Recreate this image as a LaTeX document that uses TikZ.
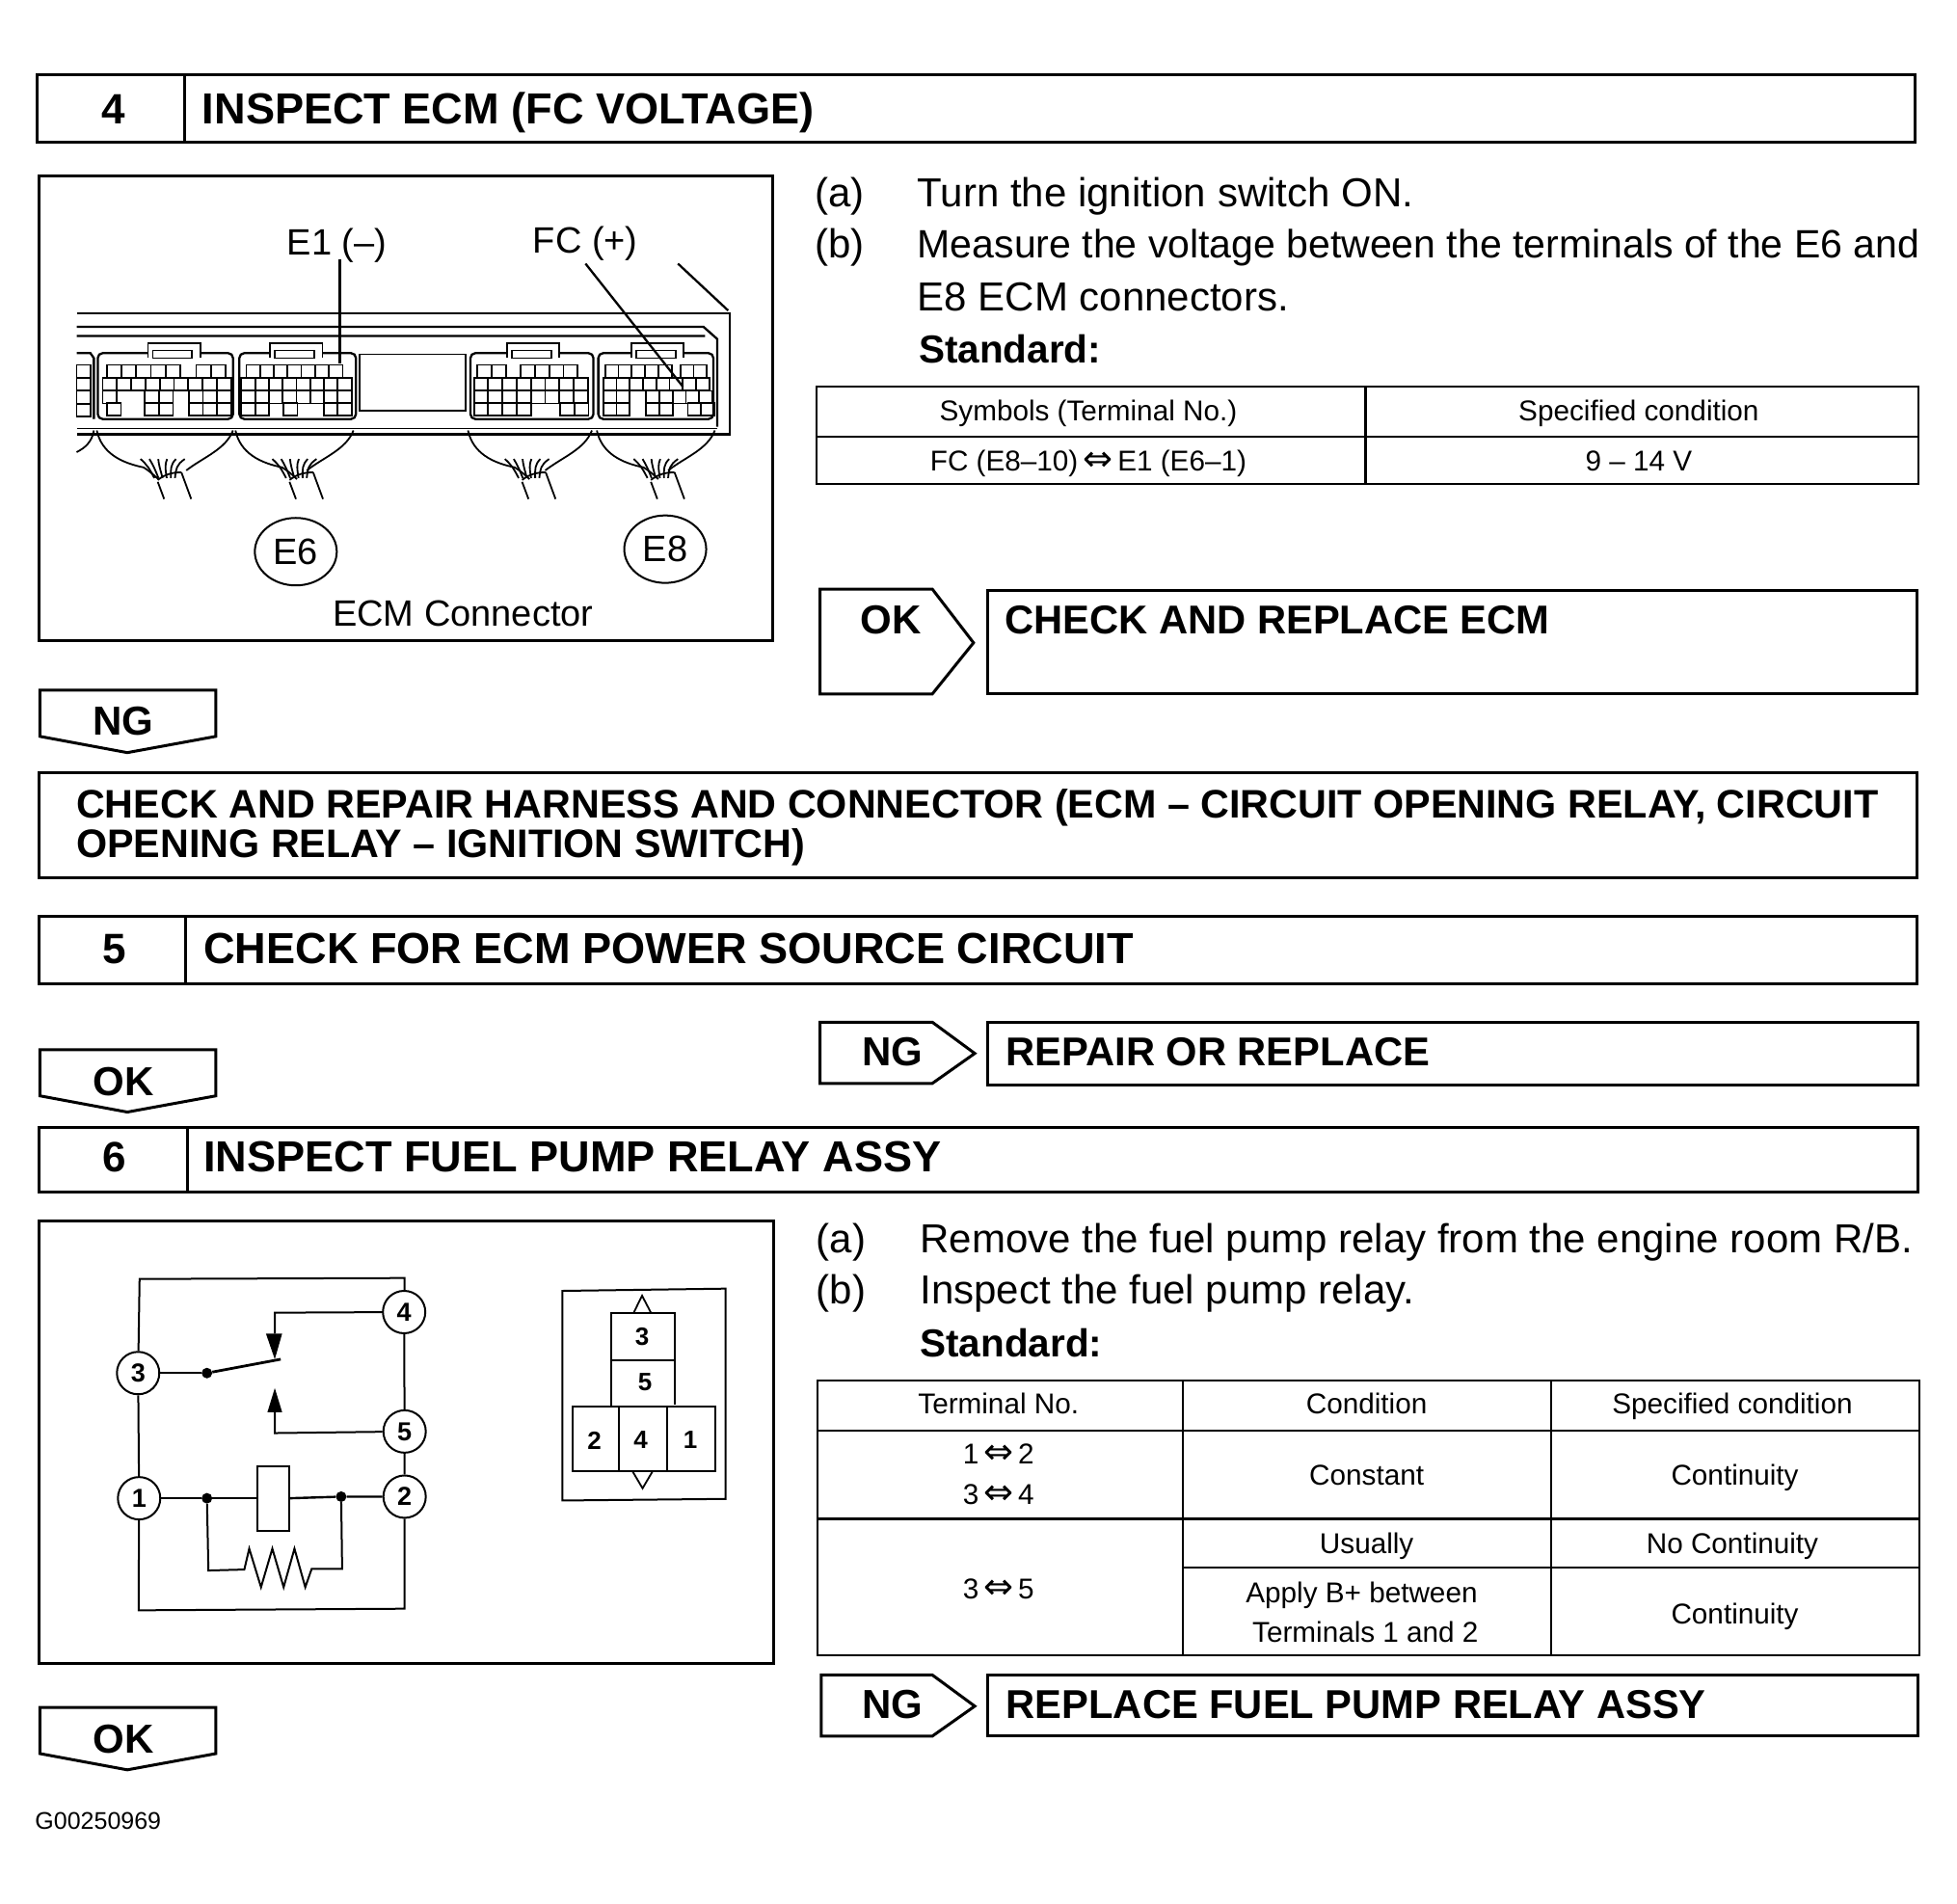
\documentclass[tikz,border=0pt]{standalone}
\usepackage{fontspec}
\setmainfont{Liberation Sans}
\newfontfamily\dejavu{DejaVu Sans}
\usetikzlibrary{shapes.geometric}
\newcommand\fs[1]{\fontsize{#1}{#1}\selectfont}
\newcommand\dbl{{\dejavu\fontsize{37}{37}\selectfont ⇔}}
\newcommand\crow[3]{\foreach \a/\n in {#3}{\foreach \k in {1,...,\n}{\draw[thin2] ({\a+(\k-1)*#1},#2) rectangle ++(#1,33);}}}
\newcommand\bundle[3]{%
 \draw[thin2] (#1,700) .. controls (#1+10,760) and (#1+50,785) .. (#1+95,797) .. controls (#1+105,805) and (#1+115,815) .. (#1+125,828);
 \draw[thin2] (#2,700) .. controls (#2-15,750) and (#2-60,770) .. (#2-95,805);
 \draw[thin2] (#3,835) -- (#3+13,880) (#3+48,810) -- (#3+68,880);
 \draw[thin2] (#3,830) .. controls (#3+15,815) and (#3+30,810) .. (#3+48,810);
 \foreach \d in {-10,2,14,26,38,50}{\draw[thin2] (#3+\d*0.7,825) .. controls (#3+\d*0.9-8,800) and (#3+\d*1-12,790) .. (#3+\d-20+\d*0.5,775);}
}
\tikzset{
 heavy/.style={line width=3pt,draw=black},
 thin2/.style={line width=1.8pt,draw=black},
 med/.style={line width=2.3pt,draw=black},
 txt/.style={inner sep=0pt,anchor=base west,text=black},
 ctxt/.style={inner sep=0pt,anchor=base,text=black},
 hd/.style={txt,font=\fs{45.1}\bfseries},
 sub/.style={txt,font=\fs{41.7}\bfseries},
 body/.style={txt,font=\fs{42}},
 std/.style={txt,font=\fs{40.5}\bfseries},
 cell/.style={ctxt,font=\fs{29.7}},
 tag/.style={ctxt,font=\fs{42}\bfseries},
 num/.style={ctxt,font=\fs{44}\bfseries},
 lbl/.style={ctxt,font=\fs{38}},
 oval/.style={ellipse,draw=black,line width=2pt,minimum width=85pt,minimum height=70pt,inner sep=0pt,font=\fs{38}},
 pin/.style={circle,draw=black,line width=2pt,fill=white,minimum size=44pt,inner sep=0pt,font=\fs{27}\bfseries},
 dot/.style={circle,fill=black,inner sep=0pt,minimum size=11pt},
 wire/.style={line width=2pt,draw=black},
}
\begin{document}
\begin{tikzpicture}[x=1.2946pt,y=-1.2946pt]
\useasboundingbox (0,0) rectangle (1568,1525);
% header 4
\draw[heavy] (30,60) rectangle (1534,114) (148,60) -- (148,114);
\node[num] (n4) at (91,99) {4};
\node[hd] (h4) at (162,99) {INSPECT ECM (FC VOLTAGE)};
% ECM picture
\draw[heavy] (31,141) rectangle (619,513);
\begin{scope}[shift={(23.2,131.3)},x=0.51pt,y=-0.395pt]
 \draw[med] (97,393) -- (1425,393) -- (1425,710) -- (97,710);
 \draw[med] (1320,262) -- (1422,385);
 \draw[med] (97,428) -- (1372,428) -- (1400,460) -- (1400,690) (97,452) -- (1375,452);
 \draw[thin2] (97,695) -- (1400,695);
 \draw[thin2,fill=white] (672,500) rectangle (888,648);
 \foreach \xa/\xb/\tx in {140/415/242,428/665/490,898/1148/972,1158/1392/1225}{
  \draw[med,fill=white,rounded corners=5pt] (\xa,497) rectangle (\xb,670);
  \draw[thin2,fill=white] (\tx,510) -- (\tx,470) -- (\tx+107,470) -- (\tx+107,510);
  \draw[thin2] (\tx+10,490) rectangle (\tx+90,510);
 }
 \draw[med] (97,497) -- (125,497) -- (132,510) -- (132,670);
 \crow{28}{528}{97/1} \crow{28}{562}{97/1} \crow{28}{596}{97/1} \crow{28}{630}{97/1}
 % A
 \crow{30}{528}{158/5,340/2}
 \crow{29}{562}{150/9}
 \crow{29}{596}{150/1,235/2,325/3}
 \crow{29}{628}{158/1,235/2,325/3}
 % B
 \crow{28}{528}{442/7}
 \crow{28}{562}{432/8}
 \crow{28}{596}{432/8}
 \crow{28}{628}{432/2,518/1,600/2}
 % C
 \crow{29}{528}{912/2,1000/4}
 \crow{29}{562}{905/8}
 \crow{29}{596}{905/8}
 \crow{29}{628}{905/4,1080/2}
 % D
 \crow{27}{528}{1172/5,1325/2}
 \crow{27}{562}{1168/8}
 \crow{27}{596}{1168/2,1255/5}
 \crow{27}{628}{1168/2,1255/2,1340/2}
 \bundle{138}{415}{262}
 \bundle{420}{660}{530}
 \bundle{893}{1145}{1003}
 \bundle{1155}{1395}{1265}
 \draw[thin2] (132,700) .. controls (128,730) and (115,745) .. (97,757);
 \coordinate (e1a) at (632,250); \coordinate (e1b) at (632,525);
 \coordinate (fca) at (1132,262); \coordinate (fcb) at (1330,585);
 \draw[med] (e1a) -- (e1b);
 \draw[med] (fca) -- (fcb);
\end{scope}
\node[lbl] (e1) at (270,204) {E1 (–)};
\node[lbl] (fc) at (469,203) {FC (+)};
\node[oval] (e6) at (237,442) {E6};
\node[oval] (e8) at (533,440) {E8};
\node[lbl] (ecm) at (371,502) {ECM Connector};
% text 4
\node[body] (a1) at (653,166) {(a)};
\node[body] (a2) at (735,166) {Turn the ignition switch ON.};
\node[body] (b1) at (653,207) {(b)};
\node[body,font=\fs{41}] (b2) at (735,207) {Measure the voltage between the terminals of the E6 and};
\node[body] (b3) at (735,249) {E8 ECM connectors.};
\node[std] (s1) at (736,291) {Standard:};
% table 1
\draw[med] (654,310) rectangle (1537,388) (654,350) -- (1537,350) (1094,310) -- (1094,388);
\node[cell] (t1a) at (872,337) {Symbols (Terminal No.)};
\node[cell] (t1b) at (1313,337) {Specified condition};
\node[cell] (t1c) at (872,377) {FC (E8–10)\,\dbl\,E1 (E6–1)};
\node[cell] (t1d) at (1313,377) {9 – 14 V};
% OK arrow + box
\draw[heavy] (657,472) -- (747,472) -- (780,515) -- (747,556) -- (657,556) -- cycle;
\node[tag] (ok1) at (714,508) {OK};
\draw[heavy] (791,473) rectangle (1536,556);
\node[sub] (r1) at (805,508) {CHECK AND REPLACE ECM};
% NG tag
\draw[heavy] (32,553) -- (173,553) -- (173,590) -- (102,603) -- (32,590) -- cycle;
\node[tag] (ng1) at (99,589) {NG};
% repair
\draw[heavy] (31,619) rectangle (1536,703);
\node[sub,font=\fs{41.3}\bfseries] (r2a) at (61,655) {CHECK AND REPAIR HARNESS AND CONNECTOR (ECM – CIRCUIT OPENING RELAY, CIRCUIT};
\node[sub,font=\fs{41.3}\bfseries] (r2b) at (61,687) {OPENING RELAY – IGNITION SWITCH)};
% header 5
\draw[heavy] (31,734) rectangle (1536,788) (149,734) -- (149,788);
\node[num] (n5) at (92,772) {5};
\node[hd] (h5) at (163,772) {CHECK FOR ECM POWER SOURCE CIRCUIT};
% OK / NG row
\draw[heavy] (32,841) -- (173,841) -- (173,878) -- (102,891) -- (32,878) -- cycle;
\node[tag] (ok2) at (99,878) {OK};
\draw[heavy] (657,819) -- (747,819) -- (781,844) -- (747,868) -- (657,868) -- cycle;
\node[tag] (ng2) at (715,854) {NG};
\draw[heavy] (791,819) rectangle (1537,869);
\node[sub] (r3) at (806,854) {REPAIR OR REPLACE};
% header 6
\draw[heavy] (31,903) rectangle (1537,955) (150,903) -- (150,955);
\node[num] (n6) at (92,939) {6};
\node[hd] (h6) at (163,939) {INSPECT FUEL PUMP RELAY ASSY};
% relay picture
\draw[heavy] (31,978) rectangle (620,1333);
\begin{scope}[shift={(23.2,973.3)},x=0.51pt,y=-0.333pt]
 \node[pin] (p3) at (222,493) {3};
 \node[pin] (p4) at (763,303) {4};
 \node[pin] (p5) at (764,675) {5};
 \node[pin] (p1) at (224,883) {1};
 \node[pin] (p2) at (764,878) {2};
 \node[dot] (d3) at (362,493) {};
 \node[dot] (d1) at (362,883) {};
 \node[dot] (d2) at (635,878) {};
 \coordinate (tl) at (225,200); \coordinate (tr) at (764,197);
 \coordinate (bl) at (223,1232); \coordinate (br) at (764,1227);
 \coordinate (blade) at (512,450);
 \coordinate (c4) at (500,305); \coordinate (c4b) at (500,370);
 \coordinate (c5) at (500,680); \coordinate (c5b) at (500,615);
 \draw[wire] (p4) -- (tr) -- (tl) -- (p3) -- (p1) -- (bl) -- (br) -- (p2) -- (p5) -- (p4);
 \draw[wire] (p4) -- (c4) -- (c4b);
 \draw[wire] (p5) -- (c5) -- (c5b);
 \fill (482,370) -- (515,370) -- (500,450) -- cycle;
 \fill (485,615) -- (515,615) -- (500,540) -- cycle;
 \draw[wire] (p3) -- (d3);
 \draw[line width=2.8pt] (d3) -- (blade);
 \node[draw=black,line width=2pt,fill=white,minimum width=33pt,minimum height=67pt,inner sep=0pt] (coil) at (496,883) {};
 \draw[line width=2.4pt] (p1) -- (d1) -- (coil.west);
 \draw[line width=2.4pt] (coil.east) -- (d2) -- (p2);
 \draw[wire] (d1) -- (365,1108) -- (438,1105) -- (448,1040) -- (472,1160) -- (495,1040) -- (518,1160) -- (540,1040) -- (562,1160) -- (575,1103) -- (637,1103) -- (d2);
 % relay pin-out
 \draw[wire] (1085,237) -- (1417,230) -- (1417,885) -- (1085,890) -- cycle;
 \draw[thin2] (1230,305) -- (1247,252) -- (1265,305);
 \draw[thin2] (1228,800) -- (1248,852) -- (1268,800);
 \draw[wire] (1184,307) rectangle (1314,452);
 \draw[wire] (1184,452) -- (1184,597) (1314,452) -- (1314,592);
 \draw[wire] (1105,597) rectangle (1395,798) (1200,597) -- (1200,798) (1297,597) -- (1297,798);
 \foreach \nm/\tx/\xx/\yy in {q3/3/1247/380,q5/5/1253/520,q2/2/1150/703,q4/4/1244/700,q1/1/1345/700}
  \node[font=\fs{26}\bfseries,inner sep=0pt] (\nm) at (\xx,\yy) {\tx};
\end{scope}
% text 6
\node[body] (c1) at (654,1004) {(a)};
\node[body] (c2) at (737,1004) {Remove the fuel pump relay from the engine room R/B.};
\node[body] (d1t) at (654,1045) {(b)};
\node[body] (d2t) at (737,1045) {Inspect the fuel pump relay.};
\node[std] (s2) at (737,1087) {Standard:};
% table 2
\draw[med] (655,1106) rectangle (1538,1326);
\draw[med] (655,1146) -- (1538,1146) (655,1217) -- (1538,1217) (948,1256) -- (1538,1256) (948,1106) -- (948,1326) (1243,1106) -- (1243,1326);
\node[cell] (u1) at (800,1133) {Terminal No.};
\node[cell] (u2) at (1095,1133) {Condition};
\node[cell] (u3) at (1388,1133) {Specified condition};
\node[cell] (u4) at (800,1173) {1\,\dbl\,2};
\node[cell] (u5) at (800,1205) {3\,\dbl\,4};
\node[cell] (u6) at (1095,1190) {Constant};
\node[cell] (u7) at (1390,1190) {Continuity};
\node[cell] (u8) at (800,1281) {3\,\dbl\,5};
\node[cell] (u9) at (1095,1245) {Usually};
\node[cell] (u10) at (1388,1245) {No Continuity};
\node[cell] (u11) at (1091,1284) {Apply B+ between};
\node[cell] (u12) at (1094,1316) {Terminals 1 and 2};
\node[cell] (u13) at (1390,1301) {Continuity};
% NG box
\draw[heavy] (658,1342) -- (747,1342) -- (781,1367) -- (747,1391) -- (658,1391) -- cycle;
\node[tag] (ng3) at (715,1377) {NG};
\draw[heavy] (791,1342) rectangle (1537,1391);
\node[sub] (r4) at (806,1377) {REPLACE FUEL PUMP RELAY ASSY};
% OK tag
\draw[heavy] (32,1368) -- (173,1368) -- (173,1405) -- (102,1418) -- (32,1405) -- cycle;
\node[tag] (ok3) at (99,1405) {OK};
\node[txt,font=\fs{25}] (code) at (28,1466) {G00250969};
\end{tikzpicture}
\end{document}
